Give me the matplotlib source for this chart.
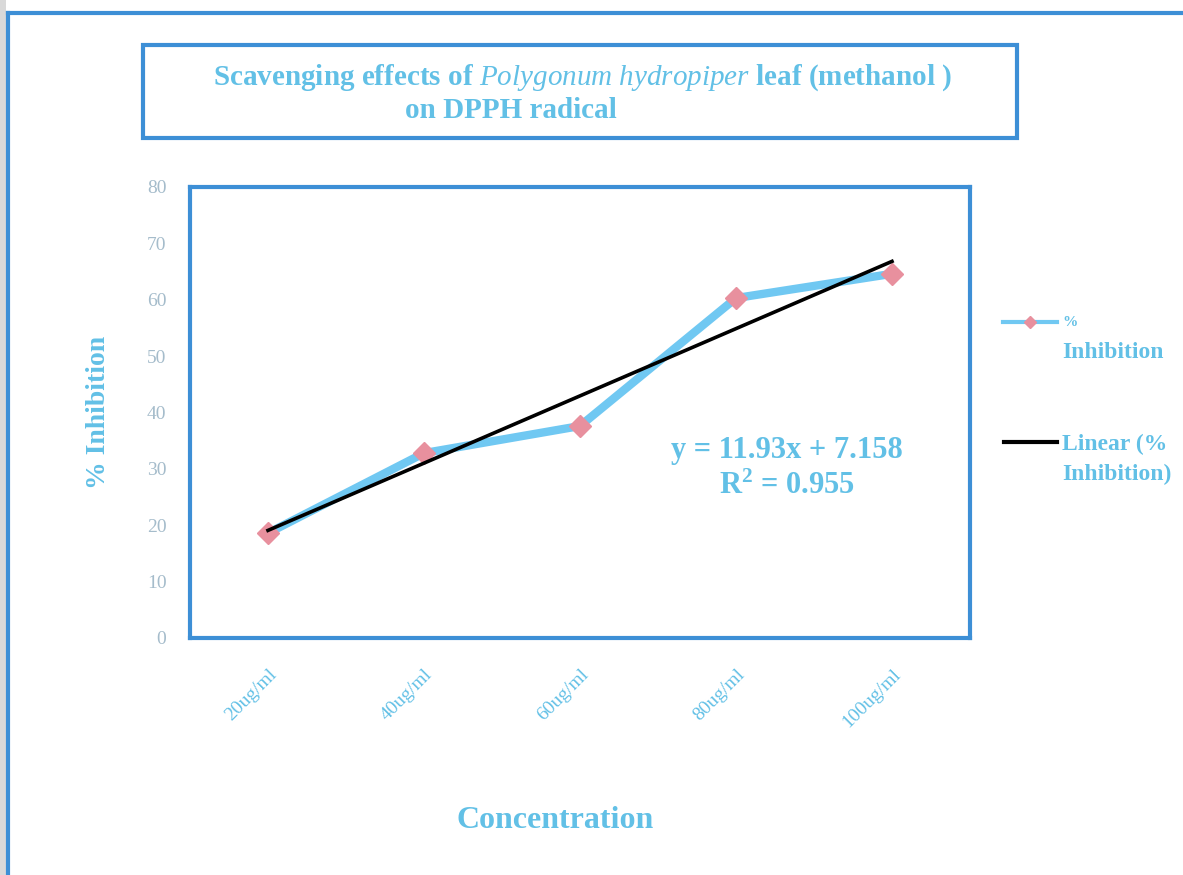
import numpy as np
import matplotlib.pyplot as plt
from matplotlib.lines import Line2D
from matplotlib.patches import Rectangle

# Datos
concentraciones = ['20ug/ml', '40ug/ml', '60ug/ml', '80ug/ml', '100ug/ml']
inhibicion = [18.6, 32.8, 37.6, 60.3, 64.6]

# Línea de tendencia (ecuación mostrada en la figura)
pendiente = 11.93
intercepto = 7.158
r2 = 0.955

azul_borde = '#3d8fd6'
azul_linea = '#70c8f2'
azul_texto = '#62c0e6'
gris_ticks = '#a5bccb'
rosa = '#e8909e'

plt.rcParams['font.family'] = ['Liberation Serif', 'DejaVu Serif']
plt.rcParams['mathtext.fontset'] = 'custom'
plt.rcParams['mathtext.it'] = 'Liberation Serif:italic'
plt.rcParams['mathtext.rm'] = 'Liberation Serif:bold'

W, H = 1183, 875
fig = plt.figure(figsize=(W / 100, H / 100), dpi=100)

# marco exterior y franja gris
fig.add_artist(Rectangle((0, 0), 6 / W, 1, transform=fig.transFigure,
                         facecolor='#d9d9d9', edgecolor='none'))
fig.add_artist(Line2D([8 / W, 1], [1 - 13 / H, 1 - 13 / H], transform=fig.transFigure,
                      color=azul_borde, lw=3))
fig.add_artist(Line2D([8 / W, 8 / W], [0, 1 - 13 / H], transform=fig.transFigure,
                      color=azul_borde, lw=3))

# caja del título
fig.add_artist(Rectangle((143 / W, 1 - 138 / H), (1017 - 143) / W, (138 - 45) / H,
                         transform=fig.transFigure, facecolor='none',
                         edgecolor=azul_borde, lw=3))
fig.text(583 / W, 1 - 78 / H,
         r'Scavenging effects of $\it{Polygonum\ hydropiper}$ leaf (methanol )',
         ha='center', va='center', color=azul_texto, fontsize=21, fontweight='bold')
fig.text(405 / W, 1 - 111 / H, 'on DPPH radical', ha='left', va='center',
         color=azul_texto, fontsize=21, fontweight='bold')

ax = fig.add_axes([190 / W, 1 - 638 / H, (970 - 190) / W, (638 - 187) / H])
x = np.arange(1, len(concentraciones) + 1)

ax.plot(x, inhibicion, color=azul_linea, lw=6, marker='D', markersize=11,
        markerfacecolor=rosa, markeredgecolor=rosa, zorder=2)
xt = np.array([x[0], x[-1]])
ax.plot(xt, pendiente * xt + intercepto, color='black', lw=2.6, zorder=3)

ax.set_xlim(0.5, len(concentraciones) + 0.5)
ax.set_ylim(0, 80)
ax.set_yticks(range(0, 81, 10))
ax.set_xticks(x)
ax.set_xticklabels(concentraciones, rotation=45, ha='right', va='top',
                   rotation_mode='anchor', color=azul_texto, fontsize=14)
ax.tick_params(axis='y', length=0, pad=17, labelsize=14, labelcolor=gris_ticks)
ax.tick_params(axis='x', length=0, pad=20)
for s in ax.spines.values():
    s.set_color(azul_borde)
    s.set_linewidth(3)

ax.set_ylabel('% Inhibition', color=azul_texto, fontsize=20, fontweight='bold',
              labelpad=26)
fig.text(555 / W, 1 - 821 / H, 'Concentration', ha='center', va='center',
         color=azul_texto, fontsize=23, fontweight='bold')

ax.text(0.765, 0.375, f'y = {pendiente}x + {intercepto}\nR$^2$ = {r2}',
        transform=ax.transAxes, ha='center', va='center', color=azul_texto,
        fontsize=22, fontweight='bold', linespacing=1.3)

# leyenda manual
fig.add_artist(Line2D([1003 / W, 1057 / W], [1 - 322 / H, 1 - 322 / H],
                      transform=fig.transFigure, color=azul_linea, lw=3))
fig.add_artist(Line2D([1030 / W], [1 - 322 / H], transform=fig.transFigure,
                      marker='D', markersize=6, color=rosa, lw=0))
fig.text(1062 / W, 1 - 322 / H, '%', ha='left', va='center', color=azul_texto,
         fontsize=11, fontweight='bold')
fig.text(1062 / W, 1 - 352 / H, 'Inhibition', ha='left', va='center',
         color=azul_texto, fontsize=17, fontweight='bold')
fig.add_artist(Line2D([1004 / W, 1057 / W], [1 - 442 / H, 1 - 442 / H],
                      transform=fig.transFigure, color='black', lw=3))
fig.text(1062 / W, 1 - 444 / H, 'Linear (%', ha='left', va='center',
         color=azul_texto, fontsize=17, fontweight='bold')
fig.text(1062 / W, 1 - 474 / H, 'Inhibition)', ha='left', va='center',
         color=azul_texto, fontsize=17, fontweight='bold')

fig.savefig('out.png', dpi=100)
